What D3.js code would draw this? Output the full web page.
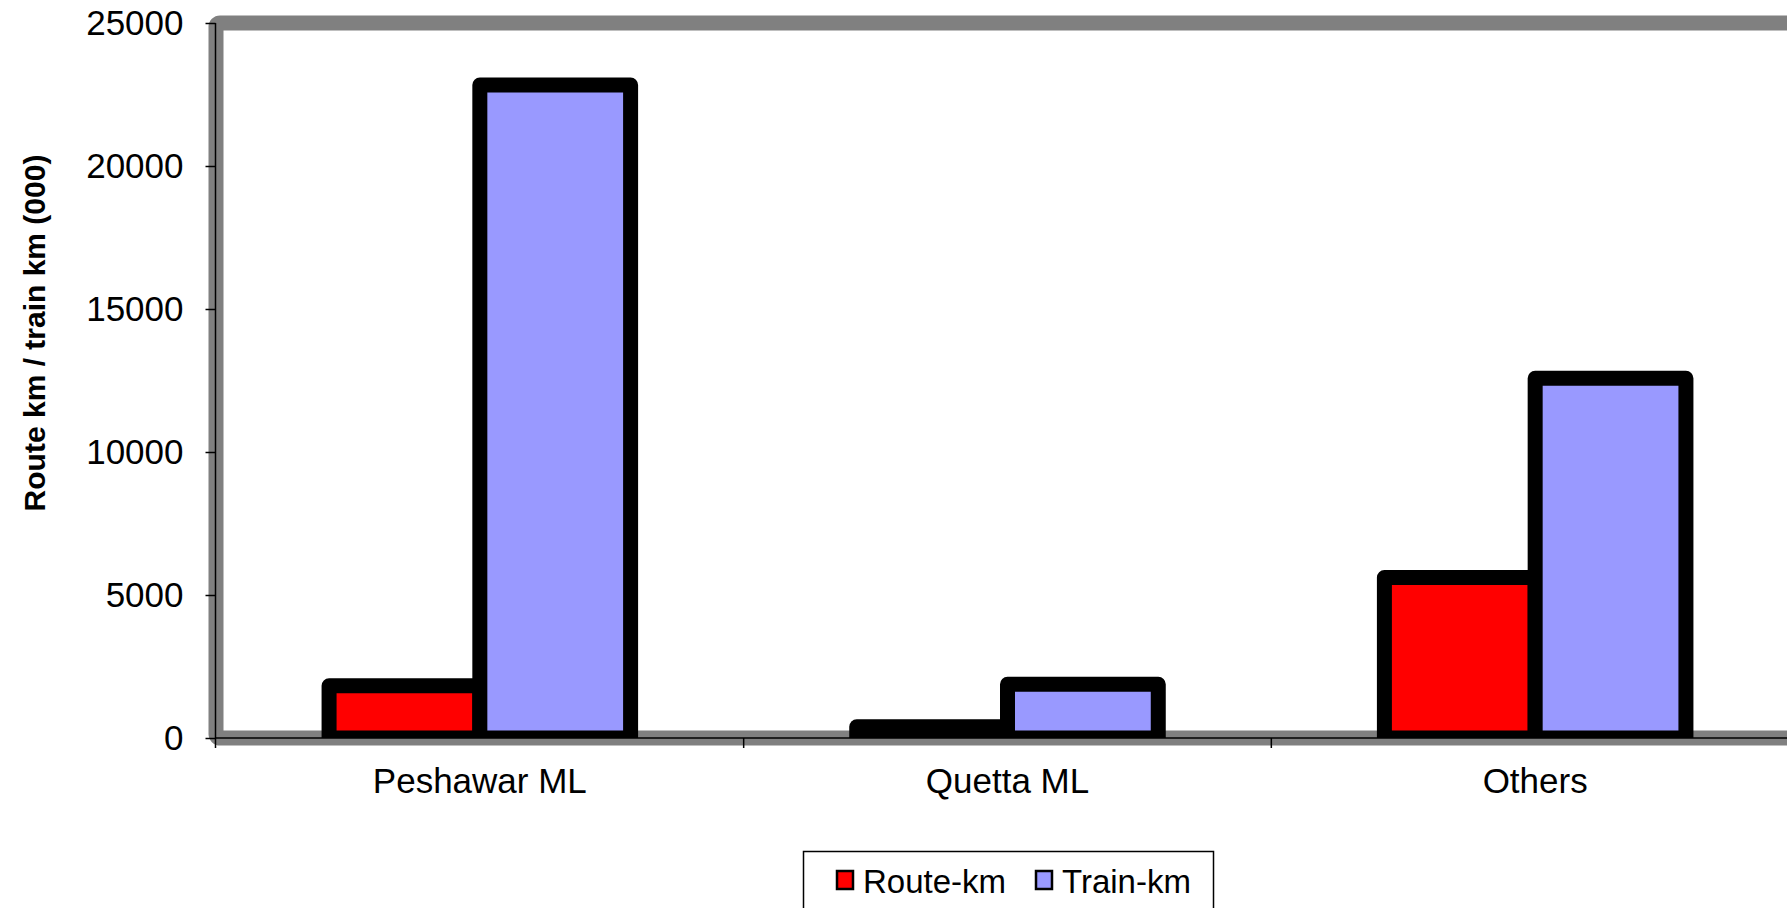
<!DOCTYPE html>
<html>
<head>
<meta charset="utf-8">
<script src="https://cdn.jsdelivr.net/npm/d3@7"></script>
<style>
  html, body { margin: 0; padding: 0; background: #fff; }
  svg { display: block; font-family: "Liberation Sans", Arial, sans-serif; }
</style>
</head>
<body>
<svg id="chart" width="1787" height="908"></svg>
<script>
const categories = ["Peshawar ML", "Quetta ML", "Others"];
const seriesNames = ["Route-km", "Train-km"];
const routeKm = [1825, 390, 5612];
const trainKm = [22832, 1878, 12577];
const yTicks = [0, 5000, 10000, 15000, 20000, 25000];
const colors = ["#FF0000", "#9999FF"];

const svg = d3.select("#chart");
const plot = { left: 216, top: 23, bottom: 738, right: 1799 };

const y = d3.scaleLinear().domain([0, 25000]).range([plot.bottom, plot.top]);
const x0 = d3.scaleBand().domain(categories).range([plot.left, plot.right]).paddingInner(0).paddingOuter(0);
const x1 = d3.scaleBand().domain(seriesNames).range([0, x0.bandwidth()]).paddingInner(0).paddingOuter(0.75);

// Gray plot-area frame
svg.append("rect")
  .attr("x", plot.left).attr("y", plot.top)
  .attr("width", 1650).attr("height", plot.bottom - plot.top)
  .attr("rx", 4)
  .attr("fill", "#fff")
  .attr("stroke", "#808080")
  .attr("stroke-width", 15);

// Clip bars to the plot area
svg.append("defs").append("clipPath").attr("id", "clip")
  .append("rect").attr("x", 0).attr("y", 0).attr("width", 1787).attr("height", plot.bottom);

const data = categories.map((c, i) => ({ cat: c, vals: [routeKm[i], trainKm[i]] }));

const groups = svg.append("g").attr("clip-path", "url(#clip)")
  .selectAll("g").data(data).join("g")
  .attr("transform", d => `translate(${x0(d.cat)},0)`);

groups.selectAll("rect")
  .data(d => d.vals.map((v, j) => ({ name: seriesNames[j], v, j })))
  .join("rect")
  .attr("x", d => x1(d.name))
  .attr("y", d => y(d.v))
  .attr("width", x1.bandwidth())
  .attr("height", d => y(0) - y(d.v))
  .attr("fill", d => colors[d.j])
  .attr("stroke", "#000")
  .attr("stroke-width", 15)
  .attr("stroke-linejoin", "round");

// Y axis
const yAxis = d3.axisLeft(y).tickValues(yTicks).tickSize(10).tickPadding(22).tickFormat(d3.format("d"));
const gy = svg.append("g").attr("transform", `translate(${plot.left - 0.5},0)`).call(yAxis);
gy.select(".domain").attr("stroke", "#000").attr("stroke-width", 1.5).attr("d", `M0,${plot.top}V${plot.bottom + 10}`);
gy.selectAll(".tick line").attr("stroke", "#000").attr("stroke-width", 1.5);
gy.selectAll(".tick text").attr("font-size", 35).attr("fill", "#000")
  .attr("font-family", "'Liberation Sans', Arial, sans-serif");

// X axis
const gx = svg.append("g");
gx.append("line")
  .attr("x1", plot.left).attr("x2", 1787)
  .attr("y1", plot.bottom).attr("y2", plot.bottom)
  .attr("stroke", "#000").attr("stroke-width", 1.5);
gx.selectAll(".bt").data(categories.slice(1)).join("line")
  .attr("class", "bt")
  .attr("x1", d => x0(d)).attr("x2", d => x0(d))
  .attr("y1", plot.bottom).attr("y2", plot.bottom + 10)
  .attr("stroke", "#000").attr("stroke-width", 1.5);
gx.selectAll(".lbl").data(categories).join("text")
  .attr("class", "lbl")
  .attr("x", d => x0(d) + x0.bandwidth() / 2)
  .attr("y", 793)
  .attr("text-anchor", "middle")
  .attr("font-size", 35)
  .attr("fill", "#000")
  .text(d => d);

// Y axis title
svg.append("text")
  .attr("transform", "translate(45,333) rotate(-90)")
  .attr("text-anchor", "middle")
  .attr("font-size", 30)
  .attr("font-weight", "bold")
  .attr("fill", "#000")
  .text("Route km / train km (000)");

// Legend
const lg = svg.append("g");
lg.append("rect")
  .attr("x", 803.5).attr("y", 851.5).attr("width", 410).attr("height", 80)
  .attr("fill", "#fff").attr("stroke", "#000").attr("stroke-width", 1.5);
const legendX = [837, 1036];
const items = lg.selectAll(".li").data(seriesNames).join("g")
  .attr("class", "li")
  .attr("transform", (d, i) => `translate(${legendX[i]},0)`);
items.append("rect")
  .attr("x", 0).attr("y", 871).attr("width", 16).attr("height", 18)
  .attr("fill", (d, i) => colors[i]).attr("stroke", "#000").attr("stroke-width", 2.5);
items.append("text")
  .attr("x", 26).attr("y", 892.5)
  .attr("font-size", 33).attr("fill", "#000")
  .text(d => d);
</script>
</body>
</html>
